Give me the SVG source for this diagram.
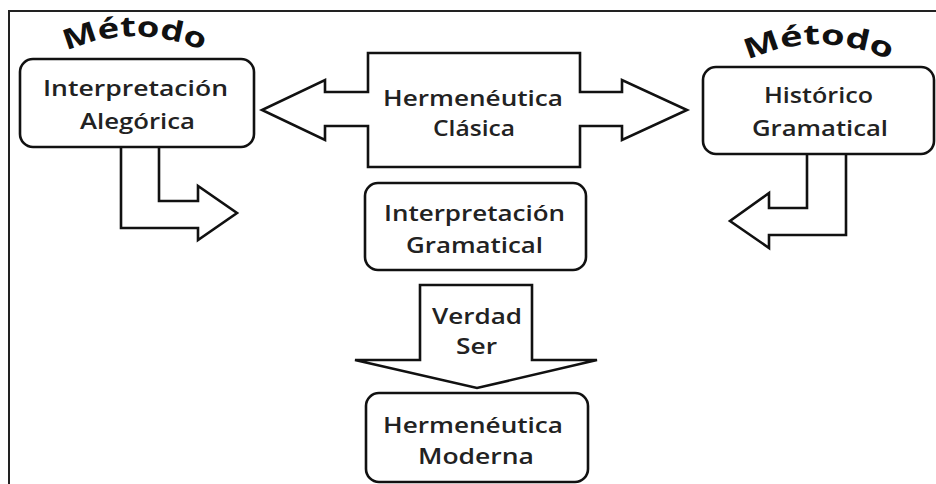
<svg xmlns="http://www.w3.org/2000/svg" width="936" height="484" viewBox="0 0 936 484">
<defs>
<style>
.shape{fill:#fff;stroke:#111;stroke-width:2.6;stroke-linejoin:miter}
.box{fill:#fff;stroke:#111;stroke-width:2.6}
.t{font-family:"Open Sans","Noto Sans","Liberation Sans",sans-serif;font-size:22px;font-weight:600;fill:#222}
.m{font-family:"Open Sans","Noto Sans","Liberation Sans",sans-serif;font-size:28px;font-weight:700;fill:#111}
.frame{stroke:#222;stroke-width:2;fill:none}
</style>
<path id="arcL" d="M55,57 A165,165 0 0 1 215,57"/>
<path id="arcR" d="M739,65 A165,165 0 0 1 899,65"/>
</defs>
<rect width="936" height="484" fill="#fff"/>
<path class="frame" d="M9,484 V11 H936"/>

<g id="connectors">
<path class="shape" d="M121,140 V228 H198 V240 L237,213 L198,186 V201 H159 V140"/>
<path class="shape" d="M846,148 V235 H769 V248 L730,221 L769,193 V208 H807 V148"/>
</g>

<g id="metodo-left">
<text class="m"><textPath href="#arcL" startOffset="13" textLength="140" lengthAdjust="spacingAndGlyphs">Método</textPath></text>
</g>
<g id="metodo-right">
<text class="m"><textPath href="#arcR" startOffset="10" textLength="146" lengthAdjust="spacingAndGlyphs">Método</textPath></text>
</g>

<g id="alegorica">
<rect class="box" x="20" y="59" width="234" height="88" rx="13"/>
<text class="t" x="43" y="96" textLength="185" lengthAdjust="spacingAndGlyphs">Interpretación</text>
<text class="t" x="80" y="129" textLength="115" lengthAdjust="spacingAndGlyphs">Alegórica</text>
</g>

<g id="clasica">
<path class="shape" d="M368,53 H580 V92 H622 V80 L687,110 L622,140 V126 H580 V167 H368 V126 H325 V140 L262,110 L325,80 V92 H368 Z"/>
<text class="t" x="383" y="106" textLength="180" lengthAdjust="spacingAndGlyphs">Hermenéutica</text>
<text class="t" x="433" y="136" textLength="82" lengthAdjust="spacingAndGlyphs">Clásica</text>
</g>

<g id="historico">
<rect class="box" x="703" y="67" width="231" height="87" rx="13"/>
<text class="t" x="764" y="103" textLength="109" lengthAdjust="spacingAndGlyphs">Histórico</text>
<text class="t" x="752" y="136" textLength="136" lengthAdjust="spacingAndGlyphs">Gramatical</text>
</g>

<g id="gramatical">
<rect class="box" x="365" y="183" width="221" height="87" rx="13"/>
<text class="t" x="384" y="221" textLength="181" lengthAdjust="spacingAndGlyphs">Interpretación</text>
<text class="t" x="406" y="253" textLength="137" lengthAdjust="spacingAndGlyphs">Gramatical</text>
</g>

<g id="verdad">
<path class="shape" d="M420,285 H532 V360 H597 L477,388 L355,360 H420 Z"/>
<text class="t" x="432" y="324" textLength="90" lengthAdjust="spacingAndGlyphs">Verdad</text>
<text class="t" x="456" y="354" textLength="41" lengthAdjust="spacingAndGlyphs">Ser</text>
</g>

<g id="moderna">
<rect class="box" x="366" y="393" width="222" height="89" rx="13"/>
<text class="t" x="383" y="433" textLength="180" lengthAdjust="spacingAndGlyphs">Hermenéutica</text>
<text class="t" x="418" y="464" textLength="116" lengthAdjust="spacingAndGlyphs">Moderna</text>
</g>
</svg>
